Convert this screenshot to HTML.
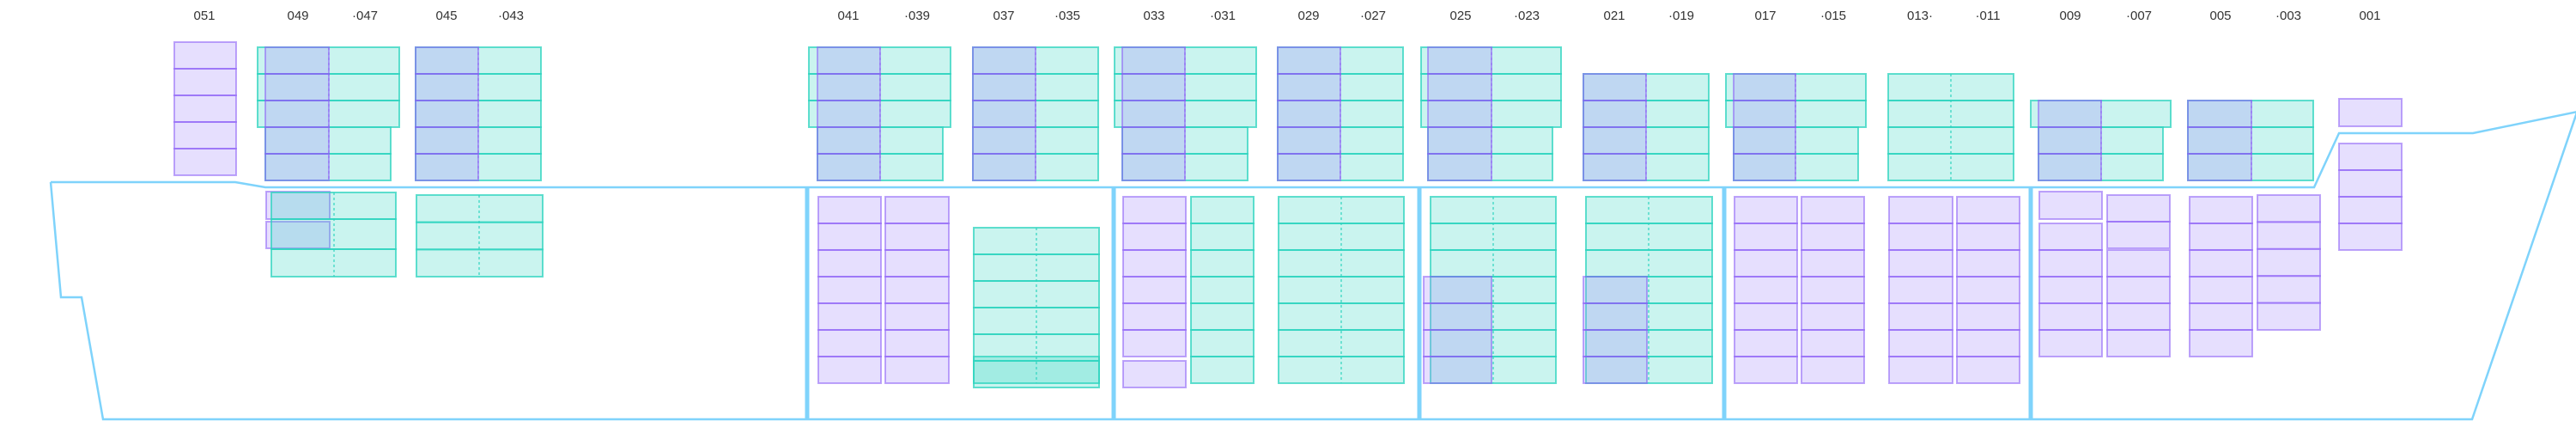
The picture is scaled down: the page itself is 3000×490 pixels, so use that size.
<!DOCTYPE html>
<html><head><meta charset="utf-8"><style>
html,body{margin:0;padding:0;background:#fff;}
svg{display:block;}
text{font-family:"Liberation Sans",sans-serif;font-size:15px;fill:#333;text-anchor:middle;}
</style></head><body>
<svg id="s" width="3000" height="490" xmlns="http://www.w3.org/2000/svg">
<g id="labels">
<text x="238" y="23">051</text>
<text x="347" y="23">049</text>
<text x="425" y="23">·047</text>
<text x="520" y="23">045</text>
<text x="595" y="23">·043</text>
<text x="988" y="23">041</text>
<text x="1068" y="23">·039</text>
<text x="1169" y="23">037</text>
<text x="1243" y="23">·035</text>
<text x="1344" y="23">033</text>
<text x="1424" y="23">·031</text>
<text x="1524" y="23">029</text>
<text x="1599" y="23">·027</text>
<text x="1701" y="23">025</text>
<text x="1778" y="23">·023</text>
<text x="1880" y="23">021</text>
<text x="1958" y="23">·019</text>
<text x="2056" y="23">017</text>
<text x="2135" y="23">·015</text>
<text x="2236" y="23">013·</text>
<text x="2315" y="23">·011</text>
<text x="2411" y="23">009</text>
<text x="2491" y="23">·007</text>
<text x="2586" y="23">005</text>
<text x="2665" y="23">·003</text>
<text x="2760" y="23">001</text>
</g>
<g id="hull" fill="none" stroke="#7fd3fb" stroke-width="2.5">
<path d="M59,212 L274,212 L309,218 L2695,218 L2724,155 L2880,155 L3002,130"/>
<path d="M59,212 L71,346 L95,346 L120,488 L2879,488 L3002,128"/>
<g stroke-width="5">
<line x1="940" y1="218" x2="940" y2="488"/>
<line x1="1297" y1="218" x2="1297" y2="488"/>
<line x1="1653" y1="218" x2="1653" y2="488"/>
<line x1="2008" y1="218" x2="2008" y2="488"/>
<line x1="2365" y1="218" x2="2365" y2="488"/>
</g>
</g>
<g id="g"></g>
</svg>
<script>
var g=document.getElementById('g');var NS='http://www.w3.org/2000/svg';
function r(x1,x2,y,h,c){var e=document.createElementNS(NS,'rect');e.setAttribute('x',x1);e.setAttribute('y',y);e.setAttribute('width',x2-x1);e.setAttribute('height',h);
if(c=='G'){e.setAttribute('fill','rgba(45,212,191,0.25)');e.setAttribute('stroke','rgba(45,212,191,0.75)');}
else{e.setAttribute('fill','rgba(167,139,250,0.28)');e.setAttribute('stroke','rgba(139,92,246,0.55)');}
e.setAttribute('stroke-width','2');g.appendChild(e);}
function S(x1,x2,y,n,c,h){h=h||31;for(var i=0;i<n;i++)r(x1,x2,y+i*h,h,c);}
function D(x,y1,y2,c){var e=document.createElementNS(NS,'line');e.setAttribute('x1',x);e.setAttribute('x2',x);e.setAttribute('y1',y1);e.setAttribute('y2',y2);
e.setAttribute('stroke',c=='G'?'rgba(45,212,191,0.8)':'rgba(139,92,246,0.45)');e.setAttribute('stroke-width','1.5');e.setAttribute('stroke-dasharray','3,3');g.appendChild(e);}
// upper
function A(gx1,gx2,bx1,bx2,lg2){S(gx1,gx2,55,3,'G');S(bx1,lg2,148,2,'G');S(bx1,bx2,55,5,'P');D(bx2,55,210,'P');}
function B(x1,xm,x2){S(x1,x2,55,5,'G');S(x1,xm,55,5,'P');D(xm,55,210,'P');}
S(203,275,49,5,'P');
A(300,465,309,383,455);B(484,557,630);
A(942,1107,952,1025,1098);B(1133,1206,1279);
A(1298,1463,1307,1380,1453);B(1488,1561,1634);
A(1655,1818,1663,1737,1808);
S(1844,1990,86,4,'G');S(1844,1917,86,4,'P');D(1917,86,210,'P');
S(2010,2173,86,2,'G');S(2019,2164,148,2,'G');S(2019,2091,86,4,'P');D(2091,86,210,'P');
S(2199,2345,86,4,'G');D(2272,86,210,'G');
S(2365,2528,117,1,'G');S(2374,2519,148,2,'G');S(2374,2447,117,3,'P');D(2447,117,210,'P');
S(2548,2694,117,3,'G');S(2548,2622,117,3,'P');D(2622,117,210,'P');
S(2724,2797,115,1,'P',32);
// lower
r(310,384,223,32,'P');r(310,384,258,31,'P');
r(316,461,224,31,'G');r(316,461,255,35,'G');r(316,461,290,32,'G');D(389,224,322,'G');
S(485,632,227,3,'G',31.67);D(558,227,322,'G');
S(953,1026,229,7,'P');S(1031,1105,229,7,'P');
S(1134,1280,265,5,'G');r(1134,1280,415,31,'G');r(1134,1280,420,31,'G');D(1207,265,446,'G');
S(1308,1381,229,6,'P');r(1308,1381,420,31,'P');
S(1387,1460,229,7,'G');
S(1489,1635,229,7,'G');D(1562,229,446,'G');
S(1666,1812,229,7,'G');D(1739,229,446,'G');S(1658,1737,322,4,'P');
S(1847,1994,229,7,'G');D(1920,229,446,'G');S(1844,1918,322,4,'P');
S(2020,2093,229,7,'P');S(2098,2171,229,7,'P');
S(2200,2274,229,7,'P');S(2279,2352,229,7,'P');
r(2375,2448,223,32,'P');S(2375,2448,260,5,'P');
S(2454,2527,227,2,'P');S(2454,2527,291,4,'P');
S(2550,2623,229,6,'P');
S(2629,2702,227,5,'P',31.4);
S(2724,2797,167,4,'P');
</script>
</body></html>
